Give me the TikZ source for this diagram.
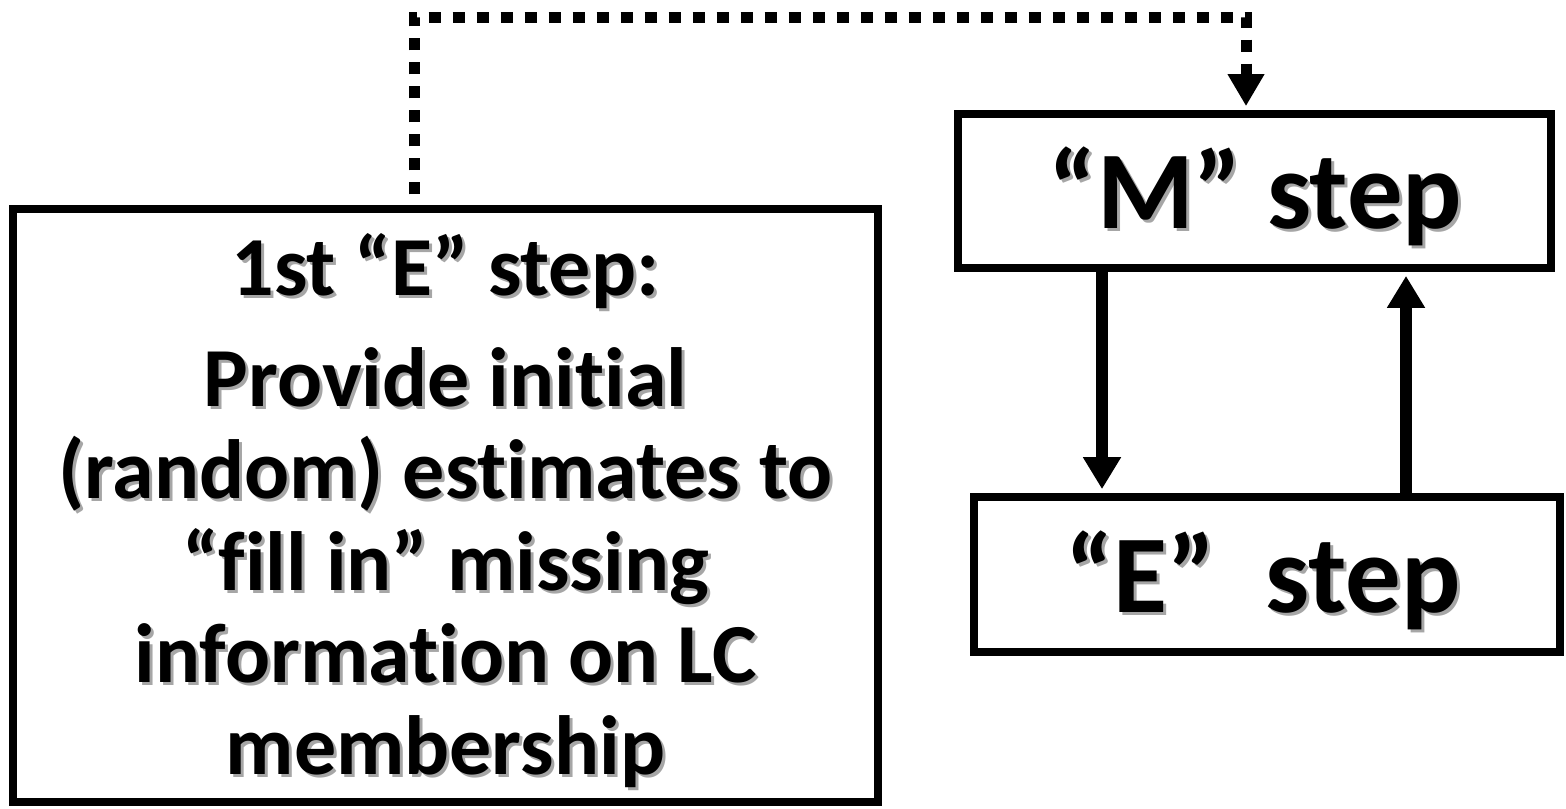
\documentclass[tikz,border=0pt]{standalone}
\usepackage{fontspec}
\setmainfont{Carlito}[Ligatures={NoCommon}]
\usetikzlibrary{arrows.meta,fit}
\definecolor{shadowgray}{HTML}{A6A6A6}
% text with a soft grey drop shadow offset down and to the right
\newcommand\dropshadowtext[1]{\leavevmode\rlap{\kern2.25pt\raisebox{-2.25pt}{\textcolor{shadowgray}{#1}}}#1}

\begin{document}
\begin{tikzpicture}[x=0.75pt,y=-0.75pt,
  stepframe/.style={draw, line width=5.8pt, inner sep=0pt},
  steplabel/.style={font=\bfseries\fontsize{83}{92}\selectfont, inner sep=0pt, anchor=base},
  introline/.style={font=\bfseries\fontsize{63}{70}\selectfont, inner sep=0pt, anchor=base},
  flow/.style={line width=9pt, -{Triangle[width=27pt,length=24pt]}, shorten >=3pt},
  loopback/.style={line width=8.25pt, dash pattern=on 9pt off 9pt,
    -{Triangle[width=26pt,length=24pt]}, shorten >=3pt, shorten <=8pt}
]
\useasboundingbox (0,0) rectangle (1566,808);

% boxes
\node[stepframe, fit={(13,209) (878,802)}] (initbox) {};
\node[stepframe, fit={(958,114) (1551,268)}] (mbox) {};
\node[stepframe, fit={(974,497) (1560,652)}] (ebox) {};

% box texts
\node[steplabel] (mtext) at (1255.5,228) {\dropshadowtext{“M” step}};
\node[steplabel] (etext) at (1263,612) {\dropshadowtext{“E”\ \ step}};

\node[introline] (l1) at (445.5,295) {\dropshadowtext{1st “E” step:}};
\node[introline] (l2) at (445.5,406) {\dropshadowtext{Provide initial}};
\node[introline] (l3) at (445.5,498) {\dropshadowtext{(random) estimates to}};
\node[introline] (l4) at (445.5,590) {\dropshadowtext{“fill in” missing}};
\node[introline] (l5) at (445.5,682) {\dropshadowtext{information on LC}};
\node[introline] (l6) at (445.5,774) {\dropshadowtext{membership}};

% connectors
\coordinate (downx) at (1102,0);
\coordinate (upx) at (1406,0);
\coordinate (dotx) at (414,0);
\coordinate (dottop) at (0,17);
\coordinate (dotend) at (1246,0);

\draw[flow] (mbox.south -| downx) -- (ebox.north -| downx);
\draw[flow] (ebox.north -| upx) -- (mbox.south -| upx);
\draw[loopback] (initbox.north -| dotx) -- (dotx |- dottop) -- (dotend |- dottop) -- (mbox.north -| dotend);
\end{tikzpicture}
\end{document}
